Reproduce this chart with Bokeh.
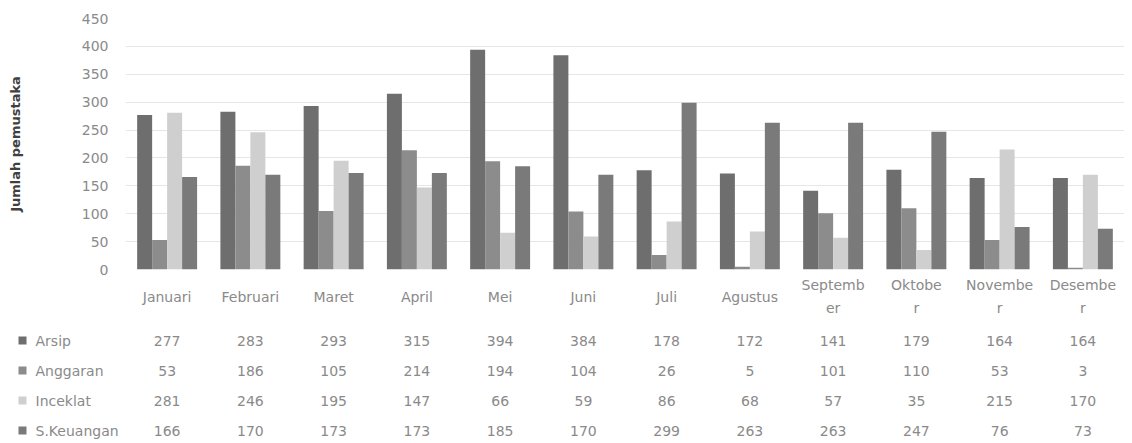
from bokeh.plotting import figure
from bokeh.models import ColumnDataSource, FactorRange, Range1d, FixedTicker
from bokeh.transform import dodge
from bokeh.core.properties import value
from bokeh.embed import file_html
from bokeh.resources import INLINE

# ---------------- data ----------------
months = ["Januari", "Februari", "Maret", "April", "Mei", "Juni", "Juli",
          "Agustus", "September", "Oktober", "November", "Desember"]
month_labels = ["Januari", "Februari", "Maret", "April", "Mei", "Juni", "Juli",
                "Agustus", "Septemb\ner", "Oktobe\nr", "Novembe\nr", "Desembe\nr"]
series_names = ["Arsip", "Anggaran", "Inceklat", "S.Keuangan"]
arsip = [277, 283, 293, 315, 394, 384, 178, 172, 141, 179, 164, 164]
anggaran = [53, 186, 105, 214, 194, 104, 26, 5, 101, 110, 53, 3]
inceklat = [281, 246, 195, 147, 66, 59, 86, 68, 57, 35, 215, 170]
skeuangan = [166, 170, 173, 173, 185, 170, 299, 263, 263, 247, 76, 73]
y_ticks = [0, 50, 100, 150, 200, 250, 300, 350, 400, 450]
y_title = "Jumlah pemustaka"

# ---------------- styles / layout ----------------
colors = ["#6e6e6e", "#8c8c8c", "#cfcfcf", "#7a7a7a"]
txt_color = "#8a8a8a"
font = "DejaVu Sans"
W = 1124
LEFT = 125                      # left border of the chart frame (px)
TOP_H, TBL_H = 277, 163
ROW_PX = 30                     # row pitch of the data table
ROW1_PX = 63                    # centre of first data row below table top
HEADER_PX = 19                  # centre of the month header below table top
KEY_PX, NAME_PX = 22, 35        # legend key / name x position (px)

series = [arsip, anggaran, inceklat, skeuangan]
keys = ["s0", "s1", "s2", "s3"]
data = {"month": months}
for k, s in zip(keys, series):
    data[k] = s
src = ColumnDataSource(data)

# ---------------- chart ----------------
top = figure(width=W, height=TOP_H, x_range=FactorRange(factors=months),
             y_range=Range1d(0, 450), output_backend="svg", toolbar_location=None,
             x_axis_location=None, min_border_left=LEFT, min_border_right=0,
             min_border_top=18, min_border_bottom=8)

offsets = [-0.27, -0.09, 0.09, 0.27]
for k, off, c in zip(keys, offsets, colors):
    top.vbar(x=dodge("month", off, range=top.x_range), top=k, width=0.18,
             source=src, fill_color=c, line_color=None)

top.outline_line_color = None
top.xgrid.grid_line_color = None
top.ygrid.grid_line_color = "#e6e6e6"
top.ygrid.ticker = FixedTicker(ticks=y_ticks)
ax = top.yaxis[0]
ax.ticker = FixedTicker(ticks=y_ticks)
ax.axis_line_color = None
ax.major_tick_line_color = None
ax.minor_tick_line_color = None
ax.major_tick_out = 0
ax.major_tick_in = 0
ax.minor_tick_out = 0
ax.minor_tick_in = 0
ax.major_label_standoff = 17
ax.major_label_text_font = font
ax.major_label_text_font_size = "14px"
ax.major_label_text_color = txt_color
ax.axis_label = y_title
ax.axis_label_text_font = font
ax.axis_label_text_font_size = "13px"
ax.axis_label_text_font_style = "bold"
ax.axis_label_text_color = "#404040"
ax.axis_label_standoff = 56

# ---------------- data table ----------------
n = len(months)
cat_px = (W - LEFT) / n
x0 = -LEFT / cat_px                       # table x range aligned with the chart
r_top = 1 - ROW1_PX / ROW_PX
r_bot = 1 + (TBL_H - ROW1_PX) / ROW_PX
header_r = 1 - (ROW1_PX - HEADER_PX) / ROW_PX

tbl = figure(width=W, height=TBL_H, x_range=Range1d(x0, n),
             y_range=Range1d(r_bot, r_top), output_backend="svg",
             toolbar_location=None, x_axis_location=None, y_axis_location=None,
             min_border=0)
tbl.outline_line_color = None
tbl.xgrid.grid_line_color = None
tbl.ygrid.grid_line_color = None

xs = [i + 0.5 for i in range(n)]
tbl.text(x=xs, y=[header_r] * n, text=month_labels,
         text_align="center", text_baseline="middle", text_font=value(font),
         text_font_size="14px", text_color=txt_color, text_line_height=1.4)

cx, cy, ct = [], [], []
for r, s in enumerate(series):
    for i, v in enumerate(s):
        cx.append(xs[i])
        cy.append(r + 1)
        ct.append(str(v))
tbl.text(x=cx, y=cy, text=ct, text_align="center", text_baseline="middle",
         text_font=value(font), text_font_size="14px", text_color=txt_color)

rows = [r + 1 for r in range(len(series_names))]
tbl.scatter(x=[x0 + KEY_PX / cat_px] * len(rows), y=rows, marker="square",
            size=8, fill_color=colors, line_color=None)
tbl.text(x=[x0 + NAME_PX / cat_px] * len(rows), y=rows, text=series_names,
         text_align="left", text_baseline="middle", text_font=value(font),
         text_font_size="14px", text_color=txt_color)

open("out.html", "w").write(file_html([top, tbl], INLINE))
